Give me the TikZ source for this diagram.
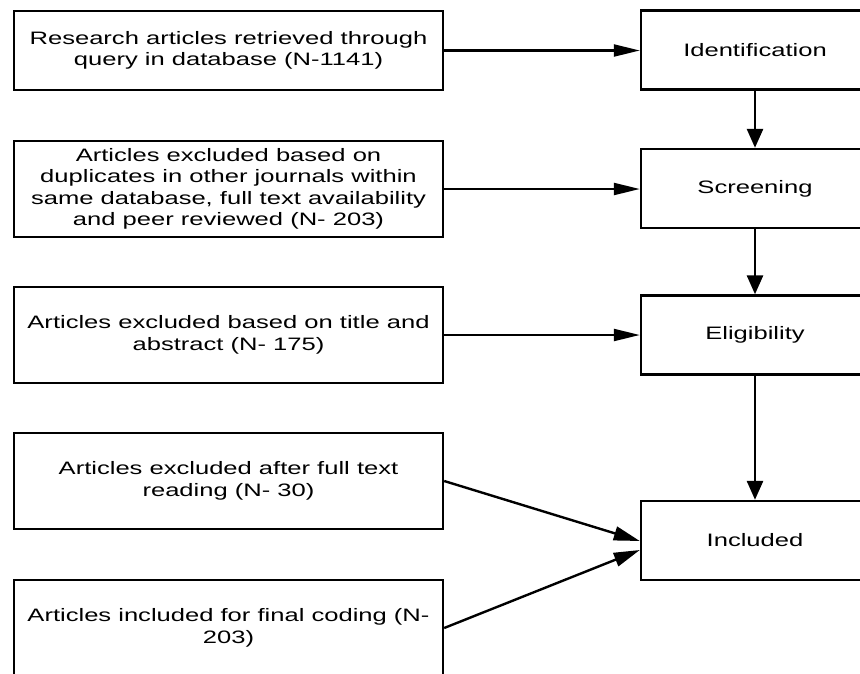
\documentclass[tikz,border=0pt]{standalone}
\usepackage{fontspec}
\setmainfont[FakeStretch=1.42]{Liberation Sans}
\usetikzlibrary{arrows.meta,positioning}

\begin{document}
\begin{tikzpicture}[x=1pt,y=-1pt,
  leftbox/.style={draw, line width=2.4pt, minimum width=429pt, minimum height=96pt, align=center, inner sep=0pt, font=\fontsize{18}{21.5}\selectfont},
  stagebox/.style={draw, line width=2.4pt, minimum width=228pt, minimum height=79pt, align=center, inner sep=0pt, font=\fontsize{18}{21.5}\selectfont},
  harrow/.style={line width=2.2pt, -{Triangle[length=26pt,width=12pt]}},
  varrow/.style={line width=2.8pt, -{Triangle[length=19pt,width=16pt]}},
  darrow/.style={line width=2.4pt, -{Triangle[length=26pt,width=14pt]}}]
\clip (0,0) rectangle (860,673);
\node[leftbox, minimum height=79pt] (retrieved) at (228.5,50.5) {Research articles retrieved through\\query in database (N-1141)};
\node[leftbox] (duplicates) at (228.5,189) {Articles excluded based on\\duplicates in other journals within\\same database, full text availability\\and peer reviewed (N- 203)};
\node[leftbox] (titleabs) at (228.5,335) {Articles excluded based on title and\\abstract (N- 175)};
\node[leftbox] (fulltext) at (228.5,481) {Articles excluded after full text\\reading (N- 30)};
\node[leftbox] (final) at (228.5,628) {Articles included for final coding (N-\\203)};
\node[stagebox] (ident) at (755,50) {Identification};
\node[stagebox] (screen) at (755,188.5) {Screening};
\node[stagebox] (elig) at (755,335) {Eligibility};
\node[stagebox] (incl) at (755,540.5) {Included};
\draw[harrow] (retrieved.east) -- (retrieved.east -| ident.west);
\draw[harrow] (duplicates.east) -- (duplicates.east -| screen.west);
\draw[harrow] (titleabs.east) -- (titleabs.east -| elig.west);
\draw[varrow] (ident) -- (screen);
\draw[varrow] (screen) -- (elig);
\draw[varrow] (elig) -- (incl);
\draw[darrow] (fulltext.east) -- ([yshift=-0.5pt]incl.west);
\draw[darrow] (final.east) -- ([yshift=-9.5pt]incl.west);
\end{tikzpicture}
\end{document}
